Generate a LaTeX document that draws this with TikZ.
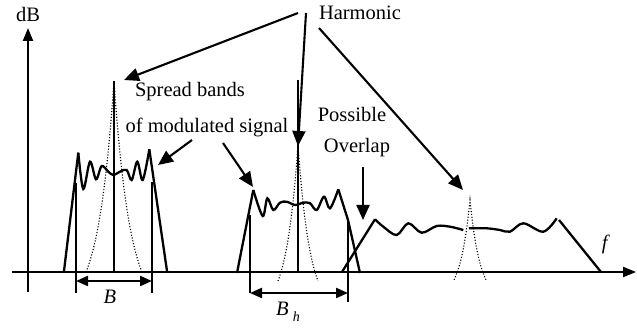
\documentclass[tikz,border=0pt]{standalone}
\usepackage{fontspec}
\setmainfont{Liberation Serif}
\usetikzlibrary{arrows.meta}
\begin{document}
\begin{tikzpicture}[x=1pt,y=-1pt,
  txt/.style={inner sep=0pt, font=\fontsize{20.5}{24}\selectfont},
  curve/.style={line width=2.3pt, line join=miter, line cap=butt},
  vline/.style={line width=2.2pt},
  dotcurve/.style={line width=1.1pt, dash pattern=on 1.1pt off 1.8pt},
  bigarrow/.style={line width=2.1pt, -{Triangle[length=15pt,width=13pt]}},
  dimarrow/.style={line width=2.2pt, {Triangle[length=12pt,width=10pt]}-{Triangle[length=12pt,width=10pt]}},
  axis/.style={line width=2.2pt, -{Triangle[length=13pt,width=10pt]}}
]
\useasboundingbox (0,0) rectangle (637,328);

% axes
\coordinate (xs) at (12,272);
\coordinate (xe) at (636,272);
\coordinate (ys) at (28,292);
\coordinate (ye) at (28,28);
\draw[axis] (xs) -- (xe);
\draw[axis] (ys) -- (ye);
\node[txt] (dB) at (28,14) {dB};
\node[txt] (f) at (606,244) {\textit{f}};

% ---------- band 1 ----------
\draw[dotcurve] plot[domain=-28:28, samples=57] ({114+\x},{272-(231*exp(-abs(\x)/16)-40.2)});
\draw[vline] (114,81) -- (114,272);
\draw[curve] (64,271) -- (78.3,152.7);
\draw[curve] plot[smooth, tension=0.55] coordinates {(78.3,152.7) (83.3,189) (90,161.7) (96,179.3) (101.7,166) (108.3,171.7) (113.3,175) (120,171.7) (126.7,170) (131.7,180) (137.3,161.7) (142.7,180) (149.3,149.3)};
\draw[curve] (149.3,149.3) -- (167,271);
\draw[vline] (76,183) -- (76,293);
\draw[vline] (152,182) -- (152,293);
\coordinate (b1l) at (76,281);
\coordinate (b1r) at (152,281);
\draw[dimarrow] (b1l) -- (b1r);
\node[txt] (B) at (110,297) {\textit{B}};

% ---------- band 2 ----------
\draw[dotcurve] plot[domain=-20:20, samples=41] ({298+\x},{281-(167.7*exp(-abs(\x)/12)-31.7)});
\draw[vline] (298,80) -- (298,272);
\draw[curve] (237,273) -- (253.3,190);
\draw[curve] plot[smooth, tension=0.55] coordinates {(253.3,190) (262.7,216) (267.3,198.3) (273.3,210) (280,202.7) (286.7,201.7) (295,205) (303.3,202.7) (310,203.3) (316.7,210) (324,196.7) (330,208.3) (338.3,189.3)};
\draw[curve] (338.3,189.3) -- (348,220) -- (360,273);
\draw[vline] (250,215) -- (250,293);
\draw[vline] (348,220) -- (348,302);
\coordinate (b2l) at (250,293);
\coordinate (b2r) at (348,293);
\draw[dimarrow] (b2l) -- (b2r);
\node[txt] (Bh) at (288,312) {\textit{B}\hspace{4pt}\raisebox{-6pt}{\fontsize{14}{16}\selectfont\textit{h}}};

% ---------- band 3 ----------
\draw[dotcurve] plot[domain=-16:16, samples=33] ({470+\x},{280-(100*exp(-abs(\x)/10)-20)});
\draw[curve] (342,272) -- (375,219.3);
\draw[curve] plot[smooth, tension=0.55] coordinates {(375,219.3) (383.3,226.7) (396.7,235) (408.3,223.3) (421.7,232.7) (436.7,226) (450,226.7) (463.3,230)};
\draw[curve] plot[smooth, tension=0.55] coordinates {(469,228.3) (486.7,228.3) (500,230) (510,231.7) (523.3,223.3) (543.3,231.7) (556.7,218.3)};
\draw[curve] (559,220) -- (601,272);

% ---------- labels ----------
\node[txt] (harm) at (360,13) {Harmonic};
\node[txt] (spread) at (190,92) {Spread bands};
\node[txt] (modsig) at (207,127) {of modulated signal};
\node[txt] (poss) at (352,114) {Possible};
\node[txt] (over) at (357,148) {Overlap};

% ---------- arrows ----------
\coordinate (h1s) at (298,13);
\coordinate (h1e) at (124,80);
\coordinate (h2s) at (306,13);
\coordinate (h2e) at (298,146);
\coordinate (h3s) at (319,28);
\coordinate (h3e) at (463,190);
\coordinate (s1s) at (192,140);
\coordinate (s1e) at (158,165);
\coordinate (s2s) at (223,143);
\coordinate (s2e) at (253,187);
\coordinate (o1s) at (363,167);
\coordinate (o1e) at (363,220);
\draw[bigarrow] (h1s) -- (h1e);
\draw[bigarrow] (h2s) -- (h2e);
\draw[bigarrow] (h3s) -- (h3e);
\draw[bigarrow] (s1s) -- (s1e);
\draw[bigarrow] (s2s) -- (s2e);
\draw[bigarrow] (o1s) -- (o1e);
\end{tikzpicture}
\end{document}
